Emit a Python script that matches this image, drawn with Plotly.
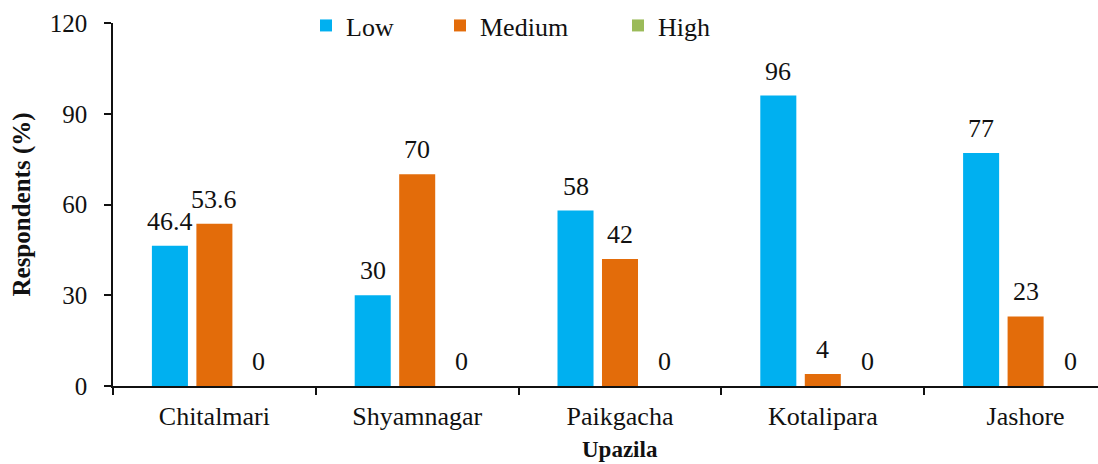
import plotly.graph_objects as go

# Share of respondents by adaptation level in each upazila
upazilas = ["Chitalmari", "Shyamnagar", "Paikgacha", "Kotalipara", "Jashore"]
low = [46.4, 30, 58, 96, 77]
medium = [53.6, 70, 42, 4, 23]
high = [0, 0, 0, 0, 0]

series_names = ["Low", "Medium", "High"]
series_values = [low, medium, high]
series_colors = ["#00B0F0", "#E36C0A", "#9BBB59"]

y_ticks = [0, 30, 60, 90, 120]

FONT = "Liberation Serif"

fig = go.Figure()
legend_ids = ["legend", "legend2", "legend3"]
for name, vals, color, lg in zip(series_names, series_values, series_colors, legend_ids):
    fig.add_trace(go.Bar(
        x=upazilas, y=vals, name=name,
        marker=dict(color=color, line=dict(width=0)),
        legend=lg, showlegend=True,
    ))

# value labels above each bar
slot_px = 44.5
for i, vals in enumerate(series_values):
    for cat, v in zip(upazilas, vals):
        fig.add_annotation(
            x=cat, y=v, xref="x", yref="y",
            text=f"{v:g}", showarrow=False,
            xanchor="center", yanchor="bottom",
            xshift=(i - 1) * slot_px, yshift=8,
            font=dict(family=FONT, size=26, color="#111111"),
        )

# x-axis title, centred on the middle category
fig.add_annotation(
    x=upazilas[2], y=-0.176, xref="x", yref="paper",
    text="<b>Upazila</b>", showarrow=False,
    xanchor="center", yanchor="middle",
    font=dict(family=FONT, size=23, color="#111111"),
)

legend_common = dict(
    orientation="h", yanchor="middle", xanchor="left",
    bgcolor="rgba(0,0,0,0)", borderwidth=0, visible=True,
    font=dict(family=FONT, size=26, color="#111111"),
)

def px_to_paper(px):
    return (px - 113) / 985

fig.update_layout(
    width=1098, height=464,
    margin=dict(l=113, r=0, t=23, b=78),
    paper_bgcolor="white", plot_bgcolor="white",
    showlegend=True,
    barmode="group", bargap=0.342, bargroupgap=0.19,
    font=dict(family=FONT, size=26, color="#111111"),
    legend=dict(**legend_common, x=px_to_paper(306), y=0.993),
    legend2=dict(**legend_common, x=px_to_paper(440), y=0.993),
    legend3=dict(**legend_common, x=px_to_paper(618), y=0.993),
    xaxis=dict(
        type="category", range=[-0.5, 4.357],
        tickson="boundaries", ticks="outside", ticklen=7, tickwidth=1.5,
        tickcolor="#111111", showline=True, linecolor="#111111", linewidth=1.5,
        showgrid=False, ticklabelstandoff=6,
        tickfont=dict(family=FONT, size=26, color="#111111"),
    ),
    yaxis=dict(
        range=[0, 120], tickvals=y_ticks, ticks="outside", ticklen=7, tickwidth=1.5,
        tickcolor="#111111", showline=True, linecolor="#111111", linewidth=1.5,
        showgrid=False, zeroline=False, ticklabelstandoff=12,
        tickfont=dict(family=FONT, size=25, color="#111111"),
        title=dict(text="<b>Respondents (%)</b>", standoff=12,
                   font=dict(family=FONT, size=25, color="#111111")),
    ),
)

fig.write_html("out.html")
